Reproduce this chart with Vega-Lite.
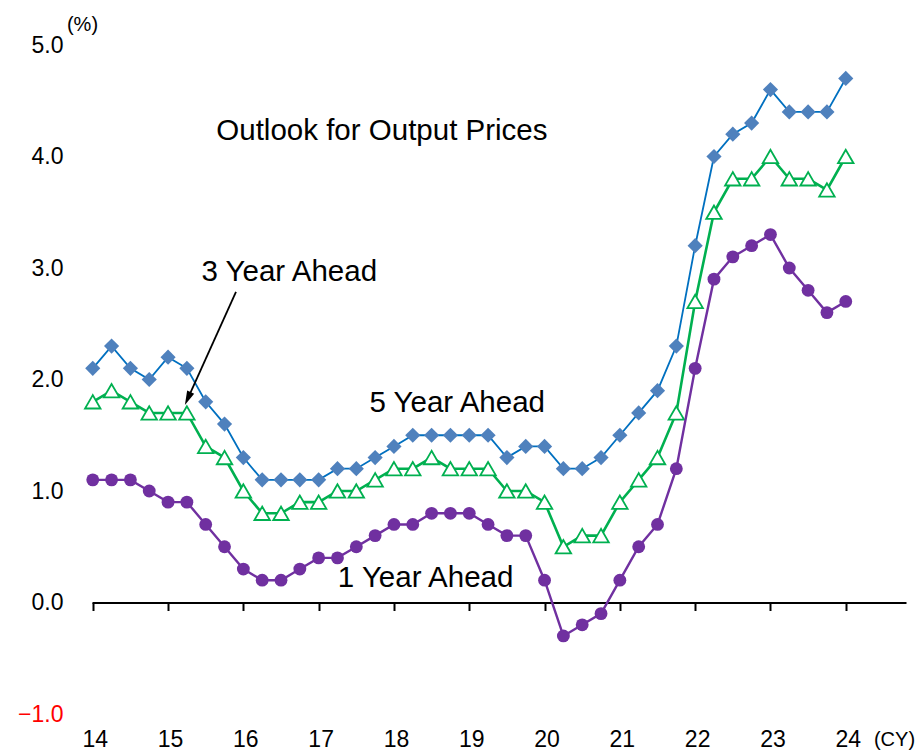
{
  "$schema": "https://vega.github.io/schema/vega-lite/v6.json",
  "width": 814,
  "height": 669,
  "autosize": {"type": "none"},
  "padding": {"left": 92, "top": 45, "right": 12, "bottom": 38},
  "background": "white",
  "config": {"view": {"stroke": null}, "font": "Liberation Sans", "axis": {"grid": false}},
  "datasets": {
    "series": [
      {"t": 2014.0, "series": "5 Year Ahead", "v": 2.1}, {"t": 2014.25, "series": "5 Year Ahead", "v": 2.3}, {"t": 2014.5, "series": "5 Year Ahead", "v": 2.1}, {"t": 2014.75, "series": "5 Year Ahead", "v": 2.0},
      {"t": 2015.0, "series": "5 Year Ahead", "v": 2.2}, {"t": 2015.25, "series": "5 Year Ahead", "v": 2.1}, {"t": 2015.5, "series": "5 Year Ahead", "v": 1.8}, {"t": 2015.75, "series": "5 Year Ahead", "v": 1.6},
      {"t": 2016.0, "series": "5 Year Ahead", "v": 1.3}, {"t": 2016.25, "series": "5 Year Ahead", "v": 1.1}, {"t": 2016.5, "series": "5 Year Ahead", "v": 1.1}, {"t": 2016.75, "series": "5 Year Ahead", "v": 1.1},
      {"t": 2017.0, "series": "5 Year Ahead", "v": 1.1}, {"t": 2017.25, "series": "5 Year Ahead", "v": 1.2}, {"t": 2017.5, "series": "5 Year Ahead", "v": 1.2}, {"t": 2017.75, "series": "5 Year Ahead", "v": 1.3},
      {"t": 2018.0, "series": "5 Year Ahead", "v": 1.4}, {"t": 2018.25, "series": "5 Year Ahead", "v": 1.5}, {"t": 2018.5, "series": "5 Year Ahead", "v": 1.5}, {"t": 2018.75, "series": "5 Year Ahead", "v": 1.5},
      {"t": 2019.0, "series": "5 Year Ahead", "v": 1.5}, {"t": 2019.25, "series": "5 Year Ahead", "v": 1.5}, {"t": 2019.5, "series": "5 Year Ahead", "v": 1.3}, {"t": 2019.75, "series": "5 Year Ahead", "v": 1.4},
      {"t": 2020.0, "series": "5 Year Ahead", "v": 1.4}, {"t": 2020.25, "series": "5 Year Ahead", "v": 1.2}, {"t": 2020.5, "series": "5 Year Ahead", "v": 1.2}, {"t": 2020.75, "series": "5 Year Ahead", "v": 1.3},
      {"t": 2021.0, "series": "5 Year Ahead", "v": 1.5}, {"t": 2021.25, "series": "5 Year Ahead", "v": 1.7}, {"t": 2021.5, "series": "5 Year Ahead", "v": 1.9}, {"t": 2021.75, "series": "5 Year Ahead", "v": 2.3},
      {"t": 2022.0, "series": "5 Year Ahead", "v": 3.2}, {"t": 2022.25, "series": "5 Year Ahead", "v": 4.0}, {"t": 2022.5, "series": "5 Year Ahead", "v": 4.2}, {"t": 2022.75, "series": "5 Year Ahead", "v": 4.3},
      {"t": 2023.0, "series": "5 Year Ahead", "v": 4.6}, {"t": 2023.25, "series": "5 Year Ahead", "v": 4.4}, {"t": 2023.5, "series": "5 Year Ahead", "v": 4.4}, {"t": 2023.75, "series": "5 Year Ahead", "v": 4.4},
      {"t": 2024.0, "series": "5 Year Ahead", "v": 4.7},

      {"t": 2014.0, "series": "3 Year Ahead", "v": 1.8}, {"t": 2014.25, "series": "3 Year Ahead", "v": 1.9}, {"t": 2014.5, "series": "3 Year Ahead", "v": 1.8}, {"t": 2014.75, "series": "3 Year Ahead", "v": 1.7},
      {"t": 2015.0, "series": "3 Year Ahead", "v": 1.7}, {"t": 2015.25, "series": "3 Year Ahead", "v": 1.7}, {"t": 2015.5, "series": "3 Year Ahead", "v": 1.4}, {"t": 2015.75, "series": "3 Year Ahead", "v": 1.3},
      {"t": 2016.0, "series": "3 Year Ahead", "v": 1.0}, {"t": 2016.25, "series": "3 Year Ahead", "v": 0.8}, {"t": 2016.5, "series": "3 Year Ahead", "v": 0.8}, {"t": 2016.75, "series": "3 Year Ahead", "v": 0.9},
      {"t": 2017.0, "series": "3 Year Ahead", "v": 0.9}, {"t": 2017.25, "series": "3 Year Ahead", "v": 1.0}, {"t": 2017.5, "series": "3 Year Ahead", "v": 1.0}, {"t": 2017.75, "series": "3 Year Ahead", "v": 1.1},
      {"t": 2018.0, "series": "3 Year Ahead", "v": 1.2}, {"t": 2018.25, "series": "3 Year Ahead", "v": 1.2}, {"t": 2018.5, "series": "3 Year Ahead", "v": 1.3}, {"t": 2018.75, "series": "3 Year Ahead", "v": 1.2},
      {"t": 2019.0, "series": "3 Year Ahead", "v": 1.2}, {"t": 2019.25, "series": "3 Year Ahead", "v": 1.2}, {"t": 2019.5, "series": "3 Year Ahead", "v": 1.0}, {"t": 2019.75, "series": "3 Year Ahead", "v": 1.0},
      {"t": 2020.0, "series": "3 Year Ahead", "v": 0.9}, {"t": 2020.25, "series": "3 Year Ahead", "v": 0.5}, {"t": 2020.5, "series": "3 Year Ahead", "v": 0.6}, {"t": 2020.75, "series": "3 Year Ahead", "v": 0.6},
      {"t": 2021.0, "series": "3 Year Ahead", "v": 0.9}, {"t": 2021.25, "series": "3 Year Ahead", "v": 1.1}, {"t": 2021.5, "series": "3 Year Ahead", "v": 1.3}, {"t": 2021.75, "series": "3 Year Ahead", "v": 1.7},
      {"t": 2022.0, "series": "3 Year Ahead", "v": 2.7}, {"t": 2022.25, "series": "3 Year Ahead", "v": 3.5}, {"t": 2022.5, "series": "3 Year Ahead", "v": 3.8}, {"t": 2022.75, "series": "3 Year Ahead", "v": 3.8},
      {"t": 2023.0, "series": "3 Year Ahead", "v": 4.0}, {"t": 2023.25, "series": "3 Year Ahead", "v": 3.8}, {"t": 2023.5, "series": "3 Year Ahead", "v": 3.8}, {"t": 2023.75, "series": "3 Year Ahead", "v": 3.7},
      {"t": 2024.0, "series": "3 Year Ahead", "v": 4.0},

      {"t": 2014.0, "series": "1 Year Ahead", "v": 1.1}, {"t": 2014.25, "series": "1 Year Ahead", "v": 1.1}, {"t": 2014.5, "series": "1 Year Ahead", "v": 1.1}, {"t": 2014.75, "series": "1 Year Ahead", "v": 1.0},
      {"t": 2015.0, "series": "1 Year Ahead", "v": 0.9}, {"t": 2015.25, "series": "1 Year Ahead", "v": 0.9}, {"t": 2015.5, "series": "1 Year Ahead", "v": 0.7}, {"t": 2015.75, "series": "1 Year Ahead", "v": 0.5},
      {"t": 2016.0, "series": "1 Year Ahead", "v": 0.3}, {"t": 2016.25, "series": "1 Year Ahead", "v": 0.2}, {"t": 2016.5, "series": "1 Year Ahead", "v": 0.2}, {"t": 2016.75, "series": "1 Year Ahead", "v": 0.3},
      {"t": 2017.0, "series": "1 Year Ahead", "v": 0.4}, {"t": 2017.25, "series": "1 Year Ahead", "v": 0.4}, {"t": 2017.5, "series": "1 Year Ahead", "v": 0.5}, {"t": 2017.75, "series": "1 Year Ahead", "v": 0.6},
      {"t": 2018.0, "series": "1 Year Ahead", "v": 0.7}, {"t": 2018.25, "series": "1 Year Ahead", "v": 0.7}, {"t": 2018.5, "series": "1 Year Ahead", "v": 0.8}, {"t": 2018.75, "series": "1 Year Ahead", "v": 0.8},
      {"t": 2019.0, "series": "1 Year Ahead", "v": 0.8}, {"t": 2019.25, "series": "1 Year Ahead", "v": 0.7}, {"t": 2019.5, "series": "1 Year Ahead", "v": 0.6}, {"t": 2019.75, "series": "1 Year Ahead", "v": 0.6},
      {"t": 2020.0, "series": "1 Year Ahead", "v": 0.2}, {"t": 2020.25, "series": "1 Year Ahead", "v": -0.3}, {"t": 2020.5, "series": "1 Year Ahead", "v": -0.2}, {"t": 2020.75, "series": "1 Year Ahead", "v": -0.1},
      {"t": 2021.0, "series": "1 Year Ahead", "v": 0.2}, {"t": 2021.25, "series": "1 Year Ahead", "v": 0.5}, {"t": 2021.5, "series": "1 Year Ahead", "v": 0.7}, {"t": 2021.75, "series": "1 Year Ahead", "v": 1.2},
      {"t": 2022.0, "series": "1 Year Ahead", "v": 2.1}, {"t": 2022.25, "series": "1 Year Ahead", "v": 2.9}, {"t": 2022.5, "series": "1 Year Ahead", "v": 3.1}, {"t": 2022.75, "series": "1 Year Ahead", "v": 3.2},
      {"t": 2023.0, "series": "1 Year Ahead", "v": 3.3}, {"t": 2023.25, "series": "1 Year Ahead", "v": 3.0}, {"t": 2023.5, "series": "1 Year Ahead", "v": 2.8}, {"t": 2023.75, "series": "1 Year Ahead", "v": 2.6},
      {"t": 2024.0, "series": "1 Year Ahead", "v": 2.7}
    ],
    "notes": [
      {"label": "Outlook for Output Prices", "t": 2017.84, "v": 4.23},
      {"label": "3 Year Ahead", "t": 2016.61, "v": 2.96},
      {"label": "5 Year Ahead", "t": 2018.84, "v": 1.79},
      {"label": "1 Year Ahead", "t": 2018.42, "v": 0.22}
    ],
    "arrow": [
      {"t": 2015.902, "v": 2.785, "t2": 2015.262, "v2": 1.829}
    ]
  },
  "encoding": {
    "x": {"field": "t", "type": "quantitative", "scale": {"domain": [2013.99, 2024.8], "nice": false, "zero": false}, "axis": null},
    "y": {
      "field": "v", "type": "quantitative",
      "scale": {"domain": [-1, 5], "nice": false, "zero": false},
      "axis": {
        "values": [-1, 0, 1, 2, 3, 4, 5], "format": ".1f", "domain": false, "ticks": false, "tickSize": 0,
        "labelPadding": 29, "labelFontSize": 23, "labelFont": "Liberation Sans",
        "labelColor": {"expr": "datum.value < 0 ? '#FF0000' : '#000000'"},
        "title": "(%)", "titleAngle": 0, "titleFontSize": 20, "titleFontWeight": "normal", "titleFont": "Liberation Sans",
        "titleX": -10, "titleY": -21, "titleAlign": "center", "titleBaseline": "middle", "titleColor": "#000000", "grid": false
      }
    }
  },
  "layer": [
    {
      "data": {"name": "series"},
      "transform": [{"filter": "datum.series === '5 Year Ahead'"}],
      "mark": {"type": "line", "color": "#0070C0", "strokeWidth": 1.8},
      "encoding": {
        "x": {"field": "t", "type": "quantitative", "scale": {"domain": [2013.99, 2024.8], "nice": false, "zero": false},
          "axis": {"orient": "bottom", "offset": -111.5, "values": [2014, 2015, 2016, 2017, 2018, 2019, 2020, 2021, 2022, 2023, 2024],
            "labels": false, "ticks": true, "tickSize": 8, "tickWidth": 2, "tickColor": "#000000",
            "domain": true, "domainColor": "#000000", "domainWidth": 2, "title": null, "grid": false}}
      }
    },
    {
      "data": {"name": "series"},
      "transform": [{"filter": "datum.series === '5 Year Ahead'"}],
      "mark": {"type": "point", "shape": "M0,-1L1,0L0,1L-1,0Z", "filled": true, "fill": "#4F81BD", "size": 230, "opacity": 1, "strokeWidth": 0},
      "encoding": {
        "x": {"field": "t", "type": "quantitative", "scale": {"domain": [2013.99, 2024.8], "nice": false, "zero": false},
          "axis": {"orient": "bottom", "values": [2014, 2015, 2016, 2017, 2018, 2019, 2020, 2021, 2022, 2023, 2024],
            "labelExpr": "toString(datum.value - 2000)", "ticks": false, "tickSize": 0, "domain": false,
            "labelPadding": 14, "labelFontSize": 23, "labelFont": "Liberation Sans", "labelColor": "#000000",
            "labelFlush": false, "labelOverlap": false, "labelOffset": 2,
            "title": "(CY)", "titleFontSize": 20, "titleFontWeight": "normal", "titleFont": "Liberation Sans", "titleColor": "#000000",
            "titleX": 802, "titleY": 25, "titleAlign": "center", "titleBaseline": "middle", "grid": false}}
      }
    },
    {
      "data": {"name": "series"},
      "transform": [{"filter": "datum.series === '3 Year Ahead'"}],
      "mark": {"type": "line", "color": "#00B050", "strokeWidth": 2.6}
    },
    {
      "data": {"name": "series"},
      "transform": [{"filter": "datum.series === '3 Year Ahead'"}],
      "mark": {"type": "point", "shape": "triangle-up", "filled": true, "fill": "#FFFFFF", "stroke": "#00B050", "strokeWidth": 1.8, "size": 240, "opacity": 1}
    },
    {
      "data": {"name": "series"},
      "transform": [{"filter": "datum.series === '1 Year Ahead'"}],
      "mark": {"type": "line", "color": "#7030A0", "strokeWidth": 2.4}
    },
    {
      "data": {"name": "series"},
      "transform": [{"filter": "datum.series === '1 Year Ahead'"}],
      "mark": {"type": "point", "shape": "circle", "filled": true, "fill": "#7030A0", "size": 165, "opacity": 1, "strokeWidth": 0}
    },
    {
      "data": {"name": "notes"},
      "mark": {"type": "text", "fontSize": 29.5, "font": "Liberation Sans", "align": "center", "baseline": "middle", "color": "#000000"},
      "encoding": {"text": {"field": "label", "type": "nominal"}}
    },
    {
      "data": {"name": "arrow"},
      "mark": {"type": "rule", "color": "#000000", "strokeWidth": 1.8},
      "encoding": {
        "x2": {"field": "t2"},
        "y2": {"field": "v2"}
      }
    },
    {
      "data": {"name": "arrow"},
      "mark": {"type": "point", "shape": "M0,-1L-0.55,1L0.55,1Z", "filled": true, "fill": "#000000", "size": 196, "angle": 204.3, "opacity": 1, "strokeWidth": 0},
      "encoding": {
        "x": {"field": "t2", "type": "quantitative", "scale": {"domain": [2013.99, 2024.8], "nice": false, "zero": false}, "axis": null},
        "y": {"field": "v2", "type": "quantitative"}
      }
    }
  ],
  "resolve": {"axis": {"x": "independent"}}
}
